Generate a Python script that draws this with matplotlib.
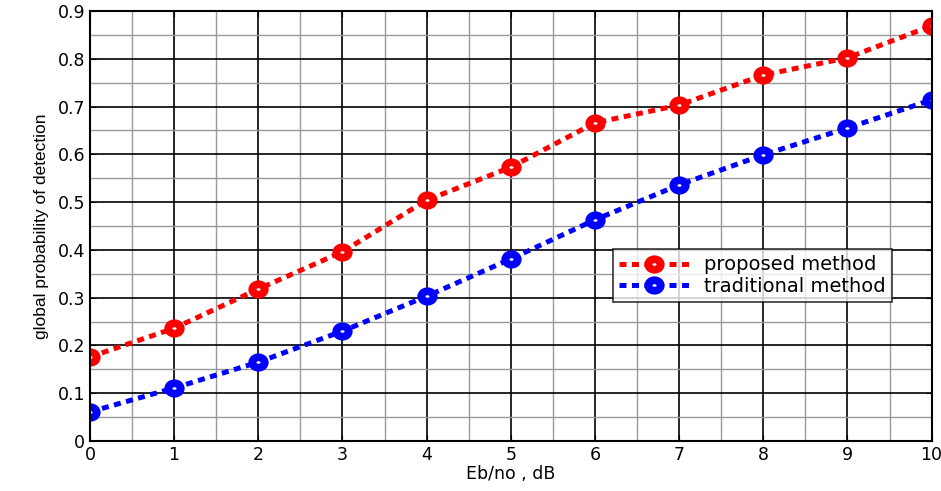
import matplotlib.pyplot as plt
import numpy as np
from matplotlib.path import Path

plt.rcParams['font.family'] = ['DejaVu Sans']

ebno = [0, 1, 2, 3, 4, 5, 6, 7, 8, 9, 10]
proposed = [0.176, 0.236, 0.318, 0.396, 0.504, 0.573, 0.666, 0.703, 0.766, 0.802, 0.869]
traditional = [0.061, 0.111, 0.165, 0.230, 0.303, 0.381, 0.463, 0.536, 0.599, 0.655, 0.714]

# slightly wide circle marker
circ = Path.unit_circle()
oval = Path(circ.vertices * np.array([1.2, 1.0]), circ.codes)

fig = plt.figure(figsize=(9.41, 4.91), dpi=100)
ax = fig.add_axes([0.0956, 0.1018, 0.8944, 0.8758])

ax.plot(ebno, proposed, color='red', linestyle=(0, (1.4, 1.1)), linewidth=3.6,
        marker=oval, markersize=9, markerfacecolor='white', markeredgewidth=5.6,
        label='proposed method')
ax.plot(ebno, traditional, color='blue', linestyle=(0, (1.4, 1.1)), linewidth=3.6,
        marker=oval, markersize=9, markerfacecolor='white', markeredgewidth=5.6,
        label='traditional method')

ax.set_xlim(0, 10)
ax.set_ylim(0, 0.9)
ax.set_xticks(range(0, 11))
ax.set_yticks(np.arange(0, 0.91, 0.1))
ax.set_yticklabels(['0', '0.1', '0.2', '0.3', '0.4', '0.5', '0.6', '0.7', '0.8', '0.9'])
ax.set_xticks(np.arange(0.5, 10, 1), minor=True)
ax.set_yticks(np.arange(0.05, 0.9, 0.1), minor=True)
ax.grid(which='major', color='black', linewidth=1.2)
ax.grid(which='minor', color='#999999', linewidth=1.0)
ax.set_axisbelow(True)
ax.tick_params(which='both', direction='in', top=True, right=True, labelsize=12.5, length=4)
ax.tick_params(which='minor', length=0)
for s in ax.spines.values():
    s.set_linewidth(1.5)

ax.set_xlabel('Eb/no , dB', fontsize=12.5, labelpad=1)
ax.set_ylabel('global probability of detection', fontsize=12.5, labelpad=6,
              family=['Liberation Sans Narrow', 'Liberation Sans'])

leg = ax.legend(loc='upper left', bbox_to_anchor=(0.61, 0.468), fontsize=14,
                frameon=True, fancybox=False, edgecolor='black',
                handlelength=3.6, handletextpad=0.8, borderpad=0.3,
                labelspacing=0.15)
leg.get_frame().set_linewidth(1.2)

fig.savefig('out.png', dpi=100)
